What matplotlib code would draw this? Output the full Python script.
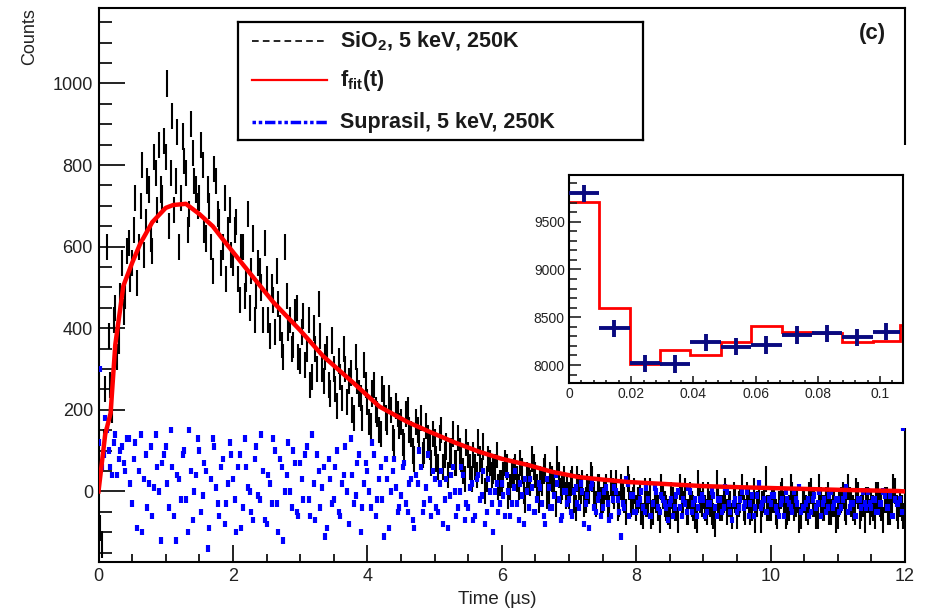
import numpy as np
import matplotlib
matplotlib.use("Agg")
import matplotlib.pyplot as plt
from matplotlib.patches import Rectangle

plt.rcParams['font.family'] = ['Liberation Sans', 'DejaVu Sans']
plt.rcParams['mathtext.fontset'] = 'custom'
plt.rcParams['mathtext.rm'] = 'Liberation Sans:bold'
plt.rcParams['mathtext.it'] = 'Liberation Sans:bold'
plt.rcParams['mathtext.bf'] = 'Liberation Sans:bold'
plt.rcParams['mathtext.default'] = 'rm'

# ---- data ----
# two interleaved sets of bins, 0.05 us apart each
t_a = np.arange(240) * 0.05 + 0.025
t_b = np.arange(240) * 0.05

# SiO2, 5 keV, 250K  (counts per bin), set a
sio2_a = [
    -90, 120, 600, 260, 420, 330, 480, 440, 590, 520,
    640, 510, 700, 580, 760, 620, 820, 690, 740, 860,
    1000, 780, 690, 880, 720, 810, 640, 900, 760, 700,
    850, 640, 740, 600, 790, 680, 560, 720, 640, 580,
    640, 520, 600, 480, 680, 540, 420, 560, 500, 610,
    420, 500, 390, 460, 360, 600, 400, 350, 440, 330,
    390, 310, 420, 280, 350, 460, 300, 330, 260, 370,
    250, 320, 230, 300, 270, 200, 330, 240, 180, 260,
    170, 240, 200, 150, 250, 180, 230, 130, 210, 160,
    120, 190, 150, 100, 170, 130, 90, 160, 110, 140,
    80, 130, 60, 110, 90, 140, 70, 100, 50, 120,
    60, 90, 40, 80, 110, 30, 70, 50, 90, 20,
    40, 60, 10, 50, 30, 70, 0, 40, 20, 60,
    10, 30, 50, -10, 40, 20, 80, 0, 30, 10,
    20, -20, 30, 0, -30, 10, 40, -10, 10, -20,
    0, -30, 20, -10, -40, 10, -20, 30, -30, 0,
    -20, -50, 0, -30, -60, -10, -40, 10, -30, -50,
    -10, -40, -70, -20, 0, -50, -30, -60, 20, -30,
    -40, -10, -50, -80, -20, -40, 0, -30, -60, -20,
    -30, 10, -50, -20, -40, -70, -10, -30, 30, -40,
    -20, -50, -30, 0, -60, -40, -10, -30, -70, -20,
    -40, -10, -30, -60, 10, -40, -20, -50, -30, -70,
    -30, -10, -50, -20, -40, 0, -60, -30, -20, -50,
    -40, -10, -30, -70, -20, -50, 10, -40, -30, -60,
]
# set b
sio2_b = [
    60, -130, 250, 380, 200, 450, 370, 560, 480, 610,
    560, 720, 600, 800, 660, 740, 590, 780, 850, 720,
    820, 650, 920, 760, 600, 870, 780, 680, 830, 740,
    720, 800, 620, 700, 540, 760, 660, 600, 520, 690,
    560, 660, 470, 600, 520, 450, 620, 480, 540, 420,
    520, 380, 470, 540, 400, 330, 480, 420, 360, 450,
    320, 430, 350, 260, 400, 300, 380, 270, 350, 240,
    300, 210, 280, 350, 220, 290, 180, 270, 230, 310,
    220, 160, 260, 190, 140, 230, 170, 200, 120, 190,
    170, 110, 200, 140, 80, 150, 180, 100, 130, 70,
    120, 60, 150, 90, 40, 100, 70, 130, 80, 30,
    90, 30, 60, 120, 50, 0, 80, 40, 60, 10,
    20, 70, -10, 40, 60, 10, 50, -20, 30, 80,
    40, -20, 20, 60, 0, 30, -30, 40, 10, -10,
    -10, 30, -40, 10, 20, -20, 0, 30, -30, 10,
    -20, 10, -40, 0, 20, -30, -10, -50, 10, -20,
    -40, -10, -60, -30, 0, -50, -20, -70, -10, -40,
    -60, -20, -40, 10, -30, -50, -10, -40, -70, -20,
    -10, -50, -30, -60, 20, -40, -20, -50, -30, -10,
    -60, -20, -40, -10, -50, 0, -30, -70, -20, -40,
    -40, -20, -60, -10, -30, -50, 10, -40, -20, -60,
    -20, -50, 0, -30, -60, -20, -40, -10, -50, -30,
    -60, -20, -40, 10, -30, -50, -10, -40, -70, -20,
    -30, -60, -10, -40, -20, -50, -30, 0, -60, -40,
]

# Suprasil, 5 keV, 250K, set a
supr_a = [
    300, 90, 150, 60, 120, 40, 100, 70, 130, 20,
    80, -90, 140, 30, -40, 110, 10, 60, -120, 90,
    20, 150, -60, 40, -20, 100, -100, 50, 0, 130,
    -50, 70, -140, 30, 110, -30, 60, -80, 20, 90,
    -20, 60, -90, 130, 10, -50, 80, -10, 140, -70,
    40, -30, 100, -100, 60, 0, 120, -40, 70, -60,
    30, 90, -20, 140, -70, 50, 10, -110, 80, -30,
    60, -50, 20, 110, -80, 40, -10, 90, -40, 70,
    0, 120, -60, 30, -20, 80, -90, 50, 10, -40,
    60, -30, 20, -70, 40, 100, -50, 10, -20, 50,
    -40, 20, -80, 30, -10, 60, -60, 0, 40, -30,
    10, -70, 30, -20, 50, -50, 0, -100, 20, -30,
    -10, 40, -60, 10, -30, 20, -80, 0, 30, -50,
    -20, 10, -60, 30, -40, -10, 20, -70, 0, -30,
    -50, 0, -30, 20, -80, -10, 10, -40, -20, -60,
    0, -30, -60, 10, -20, -110, -40, 20, -10, -50,
    -30, 0, -50, -20, -60, 10, -40, -10, -30, -70,
    -20, -40, 0, -60, -30, 10, -50, -20, -40, -10,
    -60, -30, 0, -40, -20, -50, 10, -30, -70, -20,
    -40, 0, -30, -60, -10, -40, 20, -30, -50, -20,
    -10, -40, -60, -20, 0, -30, -50, -20, 10, -40,
    -30, -60, -20, -40, 0, -30, -50, -10, -40, -20,
    -50, -20, 10, -40, -30, -60, -20, 0, -40, -30,
    -20, -50, -30, 0, -40, -10, -60, -30, -20, 155,
]
# set b
supr_b = [
    120, 60, 180, 100, 40, 140, 80, 110, 50, 130,
    -30, 120, 50, -100, 90, 20, -60, 140, 0, 70,
    110, -40, 60, -120, 30, 90, -20, 150, -70, 40,
    100, -10, 50, -90, 130, 10, -60, 80, -30, 120,
    30, -100, 90, -40, 60, 0, -70, 110, -20, 50,
    -80, 20, 130, -30, 80, -120, 40, 0, 100, -50,
    70, -20, 110, -60, 20, 90, -40, 60, -90, 30,
    -20, 100, -60, 40, 0, 130, -30, 70, -100, 20,
    50, -40, 90, -20, 60, -110, 30, 0, 80, -50,
    -10, 70, -50, 30, -90, 20, 60, -30, 90, -60,
    30, -50, 50, -20, -90, 40, 0, -40, 60, -70,
    -40, 20, -60, 40, -10, -80, 30, -30, 0, -50,
    20, -60, 0, -30, 50, -70, -10, 30, -40, 10,
    -50, 20, -30, -80, 10, -40, 40, -20, -60, 0,
    -20, -60, 10, -40, 0, -30, -90, 20, -50, -10,
    -40, 10, -70, -20, 0, -50, -30, 30, -60, -10,
    -50, -20, -40, 10, -60, -30, 0, -50, -20, -40,
    -30, -60, -10, -40, -20, -50, 0, -30, -60, -20,
    -20, -50, -30, -10, -60, -20, -40, 0, -50, -30,
    -50, -20, -40, 0, -30, -60, -10, -40, -20, -50,
    -30, -10, -50, -30, -60, -20, -40, 0, -30, -50,
    -40, -20, -50, -10, -30, -60, -20, -40, 0, -30,
    -20, -40, -10, -50, -30, -60, -20, -40, -30, 0,
    -40, -20, -50, -30, -10, -40, -60, -20, -30, -50,
]

# fit f_fit(t)
fit_t = [0, 0.05, 0.1, 0.18, 0.25, 0.37, 0.5, 0.62, 0.8, 1.0, 1.11, 1.3, 1.5,
         1.7, 1.86, 2.16, 2.6, 3.0, 3.34, 3.8, 4.18, 4.6, 4.93, 5.3, 5.67, 6.0,
         6.41, 6.75, 7.15, 7.5, 7.89, 8.34, 9.0, 9.6, 10.3, 11.0, 11.9, 12.0]
fit_v = [0, 70, 140, 192, 360, 504, 560, 607, 660, 695, 702, 705, 680,
         650, 616, 554, 464, 395, 332, 265, 208, 170, 146, 120, 97, 80,
         64, 48, 35, 29, 23, 19, 13, 10, 7, 4, 1, 0]

# inset: first bins
ins_edges = [0, 0.0097, 0.0195, 0.0293, 0.039, 0.0488, 0.0586, 0.0684,
             0.078, 0.0878, 0.0976, 0.1064, 0.1074]
ins_data = [9797, 8385, 8018, 8010, 8238, 8193, 8210, 8315, 8330, 8290, 8350]
ins_fit = [9709, 8594, 8010, 8158, 8106, 8245, 8412, 8350, 8340, 8238, 8250, 8420]

# ---- figure ----
W, H = 927, 613
fig = plt.figure(figsize=(W / 100, H / 100), dpi=100)

def fbox(x0, y0, x1, y1):
    # pixel box (top-left origin) -> figure fraction rect
    return [x0 / W, 1 - y1 / H, (x1 - x0) / W, (y1 - y0) / H]

ax = fig.add_axes(fbox(98.5, 8, 905, 562))
for tt, vv in ((t_a, sio2_a), (t_b, sio2_b)):
    vv = np.array(vv)
    ax.vlines(tt, vv - 32, vv + 32, color='black', lw=1.5, zorder=2)
for tt, vv in ((t_a, supr_a), (t_b, supr_b)):
    vv = np.array(vv)
    ax.vlines(tt, vv - 8, vv + 8, color='#0000ff', lw=3.0, zorder=3)
ax.plot(fit_t, fit_v, color='#ff0000', lw=3.2, zorder=4)

ax.set_xlim(0, 12)
ax.set_ylim(-173, 1185)
ax.set_xticks(np.arange(0, 13, 2))
ax.set_xticks(np.arange(0, 12.01, 0.5), minor=True)
ax.set_yticks(np.arange(0, 1001, 200))
ax.set_yticks(np.arange(-150, 1185, 50), minor=True)
ax.tick_params(axis='both', which='both', direction='in', width=1.4,
               top=False, right=False, labelsize=13, colors='#222222')
ax.tick_params(axis='y', which='major', length=18.5, pad=4)
ax.tick_params(axis='y', which='minor', length=9.4)
ax.tick_params(axis='x', which='major', length=12, pad=4)
ax.tick_params(axis='x', which='minor', length=5.8)
for s in ax.spines.values():
    s.set_linewidth(1.5)

fig.text(30 / W, 1 - 8 / H, 'Counts', rotation=90, ha='center', va='top',
         fontsize=13, color='#222222')
fig.text(497 / W, 1 - 600 / H, 'Time (\u00b5s)', ha='center', va='center',
         fontsize=13.5, color='#222222')

# white pad behind the inset (hides the right frame there)
fig.patches.append(Rectangle((485 / W, 1 - 428 / H), (927 - 485) / W,
                             (428 - 145) / H, transform=fig.transFigure,
                             facecolor='white', edgecolor='none', zorder=5))

# ---- legend box ----
lg = fig.add_axes(fbox(238, 22, 643, 140))
lg.set_zorder(6)
lg.set_xlim(0, 1)
lg.set_ylim(0, 1)
lg.set_xticks([])
lg.set_yticks([])
for s in lg.spines.values():
    s.set_linewidth(1.6)
rows = [0.835, 0.505, 0.15]
lg.plot([0.035, 0.22], [rows[0]] * 2, color='black', lw=1.2, ls=(0, (4, 2.5)))
lg.plot([0.035, 0.22], [rows[1]] * 2, color='#ff0000', lw=1.6)
lg.plot([0.035, 0.22], [rows[2]] * 2, color='#0000ff', lw=2.5,
        ls=(0, (1, 0.8, 1, 0.8, 3, 0.8)))
lg.text(0.252, rows[0], 'SiO$_{2}$, 5 keV, 250K', fontsize=15.5,
        fontweight='bold', va='center', color='#1a1a1a')
lg.text(0.252, rows[1], 'f$_{fit}$(t)', fontsize=15.5,
        fontweight='bold', va='center', color='#1a1a1a')
lg.text(0.252, rows[2], 'Suprasil, 5 keV, 250K', fontsize=15.5,
        fontweight='bold', va='center', color='#1a1a1a')

fig.text(872 / W, 1 - 34 / H, '(c)', fontsize=16, fontweight='bold',
         ha='center', va='center', color='#1a1a1a')

# ---- inset ----
ai = fig.add_axes(fbox(569, 175, 903, 383))
ai.set_zorder(7)
ai.stairs(ins_fit, ins_edges, color='#ff0000', lw=2.0, baseline=None)
cen = [(ins_edges[i] + ins_edges[i + 1]) / 2 for i in range(len(ins_data))]
half = [(ins_edges[i + 1] - ins_edges[i]) / 2 for i in range(len(ins_data))]
ai.errorbar(cen, ins_data, xerr=half, yerr=90, fmt='none',
            ecolor='#0a0a80', elinewidth=2.8, capsize=0, zorder=3)
ai.set_xlim(0, 0.1074)
ai.set_ylim(7812, 9988)
ai.set_xticks([0, 0.02, 0.04, 0.06, 0.08, 0.1])
ai.set_xticklabels(['0', '0.02', '0.04', '0.06', '0.08', '0.1'])
ai.set_xticks(np.arange(0, 0.1074, 0.004), minor=True)
ai.set_yticks([8000, 8500, 9000, 9500])
ai.set_yticks(np.arange(7900, 9988, 100), minor=True)
ai.tick_params(axis='both', which='both', direction='in', width=1.2,
               top=False, right=False, labelsize=10, colors='#222222')
ai.tick_params(axis='y', which='major', length=8.5, pad=3)
ai.tick_params(axis='y', which='minor', length=5.5)
ai.tick_params(axis='x', which='major', length=5, pad=3)
ai.tick_params(axis='x', which='minor', length=2.5)
for s in ai.spines.values():
    s.set_linewidth(1.5)
fig.text(515 / W, 1 - 174 / H, 'Counts', rotation=90, ha='center', va='top',
         fontsize=11, color='#333333')
fig.text(735 / W, 1 - 407 / H, 'Time (\u00b5s)', ha='center', va='center',
         fontsize=12, color='#333333')

fig.savefig('out.png', dpi=100)
